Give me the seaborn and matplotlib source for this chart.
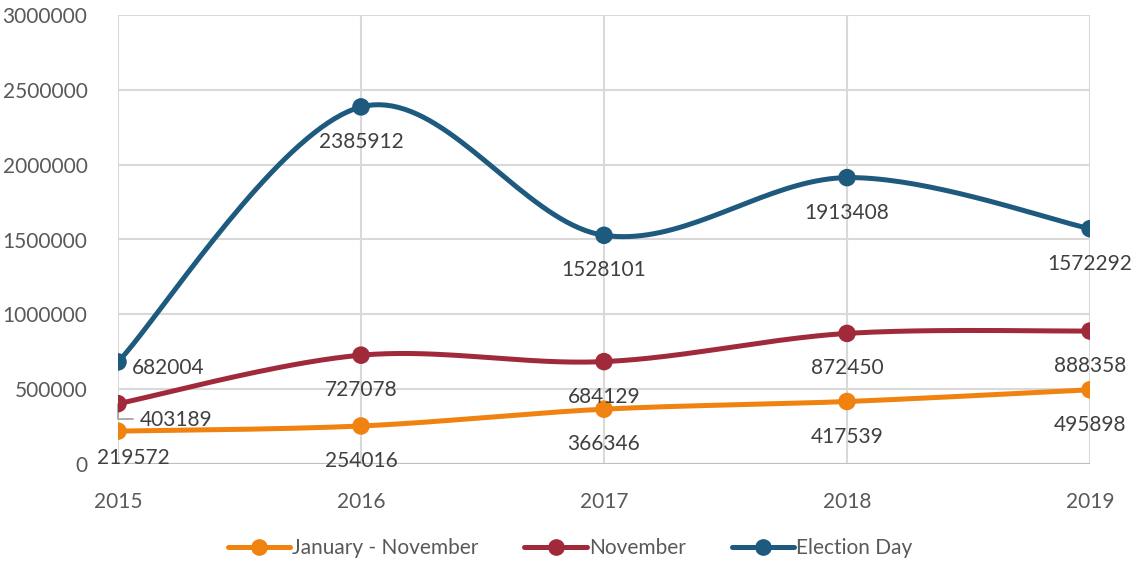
import numpy as np
import pandas as pd
import matplotlib
matplotlib.use("Agg")
import matplotlib.pyplot as plt
import seaborn as sns
from matplotlib.lines import Line2D

years = [2015, 2016, 2017, 2018, 2019]
jan_nov = [219572, 254016, 366346, 417539, 495898]
november = [403189, 727078, 684129, 872450, 888358]
election_day = [682004, 2385912, 1528101, 1913408, 1572292]
series_names = ["January - November", "November", "Election Day"]
y_ticks = [0, 500000, 1000000, 1500000, 2000000, 2500000, 3000000]

colors = ["#F0820F", "#A0293A", "#1E5A7E"]

sns.set_theme(style="white")
plt.rcParams["font.family"] = ["Lato", "DejaVu Sans"]

fig = plt.figure(figsize=(11.4, 5.65), dpi=100)
ax = fig.add_axes([118 / 1140, 1 - 464 / 565, (1090 - 118) / 1140, (464 - 15) / 565])

df = pd.DataFrame({
    "year": years * 3,
    "value": jan_nov + november + election_day,
    "series": sum([[n] * len(years) for n in series_names], []),
})

ax.set_xlim(2015, 2019)
ax.set_ylim(0, 3000000)

# pixel scales for smoothing in screen space
px_x = (1090 - 118) / 4.0
px_y = (464 - 15) / 3000000.0


def catmull(xs, ys, n=40):
    X = np.array(xs, float) * px_x
    Y = np.array(ys, float) * px_y
    P = np.column_stack([X, Y])
    P = np.vstack([P[0], P, P[-1]])
    out = []
    for i in range(1, len(P) - 2):
        p0, p1, p2, p3 = P[i - 1], P[i], P[i + 1], P[i + 2]
        t = np.linspace(0, 1, n)[:, None]
        c = 0.5 * ((2 * p1) + (-p0 + p2) * t + (2 * p0 - 5 * p1 + 4 * p2 - p3) * t ** 2
                   + (-p0 + 3 * p1 - 3 * p2 + p3) * t ** 3)
        out.append(c if i == 1 else c[1:])
    out = np.vstack(out)
    return out[:, 0] / px_x, out[:, 1] / px_y


for name, col in zip(series_names, colors):
    sub = df[df.series == name]
    sx, sy = catmull(sub.year.values, sub.value.values)
    ax.plot(sx, sy, color=col, lw=3.6, solid_capstyle="round", zorder=3)
sns.scatterplot(data=df, x="year", y="value", hue="series", palette=colors,
                s=160, edgecolor="none", legend=False, ax=ax, zorder=4)

# grid
for yv in y_ticks:
    ax.axhline(yv, color="#D9D9D9", lw=1.5, zorder=1)
for xv in years:
    ax.axvline(xv, color="#D9D9D9", lw=1.5, zorder=1)
ax.axhline(0, color="#BFBFBF", lw=1.5, zorder=1)
for s in ax.spines.values():
    s.set_visible(False)

ax.set_xticks(years)
ax.set_xticklabels([str(y) for y in years])
ax.set_yticks(y_ticks)
ax.set_yticklabels([str(v) for v in y_ticks])
ax.tick_params(axis="x", length=8, color="#D9D9D9", width=1.5, pad=12,
               labelsize=15, labelcolor="#595959", direction="out")
ax.tick_params(axis="y", length=0, pad=22, labelsize=15, labelcolor="#595959")
ax.set_xlabel("")
ax.set_ylabel("")
for lbl in ax.get_yticklabels():
    lbl.set_horizontalalignment("right")

label_col = "#404040"
fs = 15
all_series = [jan_nov, november, election_day]
for si, vals in enumerate(all_series):
    for i, (yr, v) in enumerate(zip(years, vals)):
        if i == 0:
            if si == 2:
                off, ha, va = (14, -6), "left", "center"
            elif si == 1:
                off, ha, va = (22, -16), "left", "center"
            else:
                off, ha, va = (15, -27), "center", "center"
        else:
            off, ha, va = (0, -35), "center", "center"
        ax.annotate(str(v), (yr, v), xytext=off, textcoords="offset pixels",
                    ha=ha, va=va, fontsize=fs, color=label_col, zorder=5,
                    annotation_clip=False)

# leader line for November 2015 label
ax.annotate("", xy=(2015, november[0]), xytext=(15, -15), textcoords="offset pixels",
            arrowprops=dict(arrowstyle="-", color="#A6A6A6", lw=1.3,
                            connectionstyle="angle,angleA=0,angleB=90,rad=0",
                            shrinkA=0, shrinkB=0), zorder=2)

handles = [Line2D([0], [0], color=c, lw=3.6, marker="o", markersize=11) for c in colors]
fig.legend(handles, series_names, loc="center", bbox_to_anchor=(0.5, 1 - 548 / 565),
           ncol=3, frameon=False, fontsize=15, handlelength=3.0, handletextpad=0.1,
           columnspacing=2.2, labelcolor="#595959")

fig.savefig("out.png", dpi=100)
